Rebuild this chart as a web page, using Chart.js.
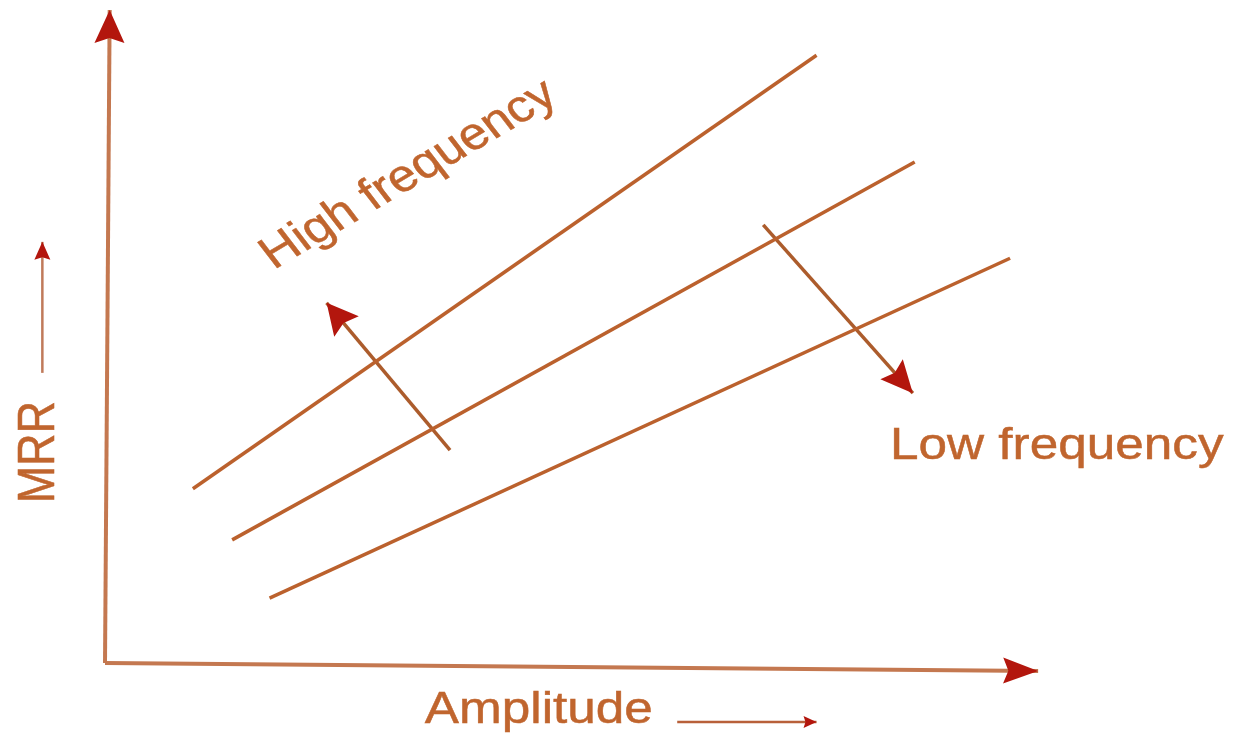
<!DOCTYPE html>
<html>
<head>
<meta charset="utf-8">
<title>MRR vs Amplitude</title>
<script src="https://cdn.jsdelivr.net/npm/chart.js@4/dist/chart.umd.min.js"></script>
<style>
  body { margin: 0; background: #fff; }
  canvas { display: block; }
</style>
</head>
<body>
<canvas id="mrrChart" width="1238" height="738"></canvas>
<script>
// three frequency lines, amplitude (x) and MRR (y), arbitrary units 0..100
const seriesNames = ["upper", "middle", "lower"];
const seriesAmplitude = [[9.4, 76.1], [13.6, 86.6], [17.6, 96.8]];
const seriesMrr = [[26.9, 93.1], [19.1, 76.8], [10.2, 62.1]];

// the two arrows across the lines
const highArrowAmplitude = [36.9, 23.7];
const highArrowMrr = [32.8, 55.3];
const lowArrowAmplitude = [70.4, 86.4];
const lowArrowMrr = [67.2, 41.5];

// axes (drawn as lines with arrow heads)
const xAxisAmplitude = [0, 99.8];
const xAxisMrr = [0.3, -0.9];
const yAxisAmplitude = [0, 0.5];
const yAxisMrr = [0.3, 100];

// small arrows next to the axis titles
const ampTitleArrowAmplitude = [61.2, 76.1];
const ampTitleArrowMrr = [-8.7, -8.7];
const mrrTitleArrowAmplitude = [-6.7, -6.7];
const mrrTitleArrowMrr = [44.6, 64.6];

const labelTexts = ["High frequency", "Low frequency", "Amplitude", "MRR"];

const lineColor = "#bb612d";
const axisColor = "#c47850";
const headColor = "#b3160d";
const textColor = "#c0652e";

const toPoints = (xs, ys) => xs.map((x, i) => ({ x, y: ys[i] }));

const lineSet = (xs, ys, color, width, head) => ({
  data: toPoints(xs, ys),
  showLine: true,
  borderColor: color,
  borderWidth: width,
  pointRadius: 0,
  clip: false,
  arrowHead: head,
});

const datasets = [
  lineSet(xAxisAmplitude, xAxisMrr, axisColor, 4, { len: 35, half: 13 }),
  lineSet(yAxisAmplitude, yAxisMrr, axisColor, 4, { len: 33, half: 15 }),
  ...seriesNames.map((name, i) => ({
    label: name,
    ...lineSet(seriesAmplitude[i], seriesMrr[i], lineColor, 3.5, null),
  })),
  lineSet(highArrowAmplitude, highArrowMrr, "#ac5c2c", 3.5, { len: 31, half: 16 }),
  lineSet(lowArrowAmplitude, lowArrowMrr, "#ac5c2c", 3.5, { len: 32, half: 15 }),
  lineSet(ampTitleArrowAmplitude, ampTitleArrowMrr, "#b8603a", 2.5, { len: 13, half: 6 }),
  lineSet(mrrTitleArrowAmplitude, mrrTitleArrowMrr, "#c07a5a", 2.5, { len: 18, half: 8 }),
];

// label anchors in data units, angle in degrees
const labelSpots = [
  { x: 32.5, y: 74.8, angle: -34 },
  { x: 101.8, y: 33.4, angle: 0 },
  { x: 46.4, y: -7.0, angle: 0 },
  { x: -7.0, y: 32.5, angle: -90 },
];

const arrowHeads = {
  id: "arrowHeads",
  afterDatasetsDraw(chart) {
    const ctx = chart.ctx;
    chart.data.datasets.forEach((ds, i) => {
      if (!ds.arrowHead) return;
      const pts = chart.getDatasetMeta(i).data;
      const tip = pts[pts.length - 1];
      const prev = pts[pts.length - 2];
      const a = Math.atan2(tip.y - prev.y, tip.x - prev.x);
      const { len, half } = ds.arrowHead;
      ctx.save();
      ctx.translate(tip.x, tip.y);
      ctx.rotate(a);
      ctx.fillStyle = headColor;
      ctx.beginPath();
      ctx.moveTo(0, 0);
      ctx.lineTo(-len, -half);
      ctx.lineTo(-len * 0.85, 0);
      ctx.lineTo(-len, half);
      ctx.closePath();
      ctx.fill();
      ctx.restore();
    });
  },
};

const textLabels = {
  id: "textLabels",
  afterDraw(chart) {
    const ctx = chart.ctx;
    const xs = chart.scales.x;
    const ys = chart.scales.y;
    labelTexts.forEach((text, i) => {
      const spot = labelSpots[i];
      ctx.save();
      ctx.translate(xs.getPixelForValue(spot.x), ys.getPixelForValue(spot.y));
      ctx.scale(1.14, 1);
      ctx.rotate((spot.angle * Math.PI) / 180);
      ctx.font = '45px "Liberation Sans", Arial, sans-serif';
      ctx.fillStyle = textColor;
      ctx.strokeStyle = textColor;
      ctx.lineWidth = 0.5;
      ctx.textAlign = "center";
      ctx.textBaseline = "middle";
      ctx.fillText(text, 0, 0);
      ctx.strokeText(text, 0, 0);
      ctx.restore();
    });
  },
};

const whiteBg = {
  id: "whiteBg",
  beforeDraw(chart) {
    const ctx = chart.ctx;
    ctx.save();
    ctx.fillStyle = "#fff";
    ctx.fillRect(0, 0, chart.width, chart.height);
    ctx.restore();
  },
};

new Chart(document.getElementById("mrrChart"), {
  type: "scatter",
  data: { datasets },
  options: {
    responsive: false,
    animation: false,
    layout: { padding: { left: 105, right: 198, top: 10, bottom: 73 } },
    scales: {
      x: { type: "linear", min: 0, max: 100, display: false },
      y: { type: "linear", min: 0, max: 100, display: false },
    },
    plugins: {
      legend: { display: false },
      tooltip: { enabled: false },
    },
  },
  plugins: [whiteBg, arrowHeads, textLabels],
});
</script>
</body>
</html>
